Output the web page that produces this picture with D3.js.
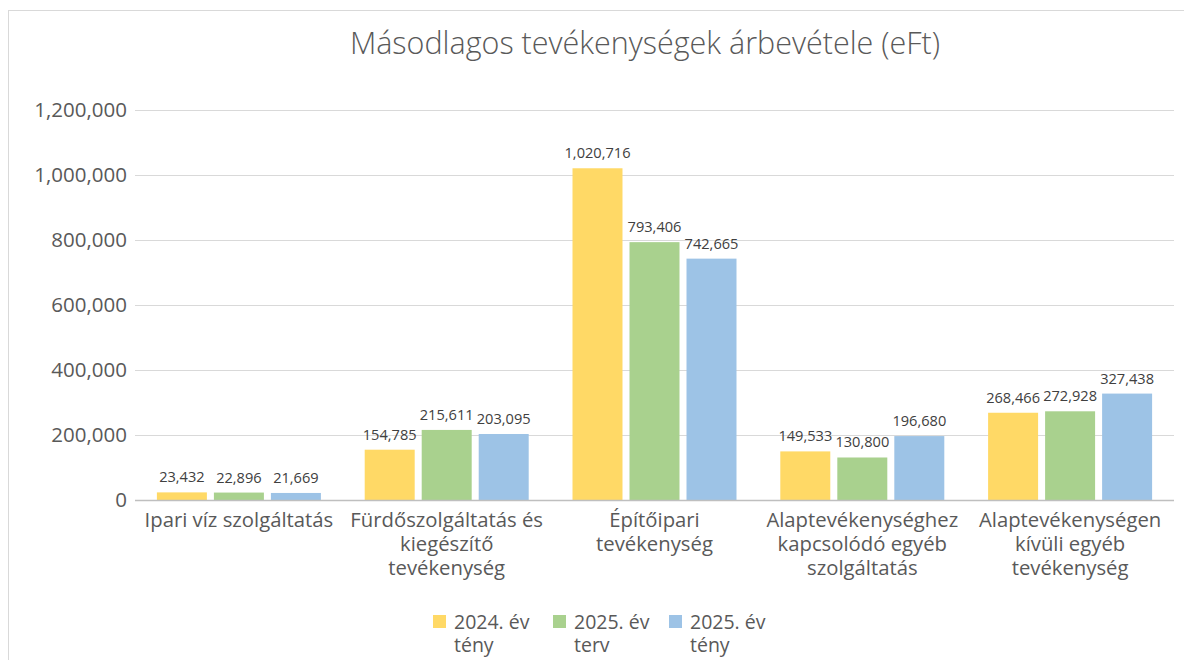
<!DOCTYPE html>
<html>

<head>
    <meta charset="UTF-8">
    <title>Másodlagos tevékenységek árbevétele</title>
    <script src="https://cdn.jsdelivr.net/npm/d3@7"></script>
    <style>
        body { margin: 0; background: #fff; }
        text { font-family: "Open Sans", sans-serif; fill: #595959; }
    </style>
</head>

<body>
    <script>
        const categories = [
            "Ipari víz szolgáltatás",
            "Fürdőszolgáltatás és\nkiegészítő\ntevékenység",
            "Építőipari\ntevékenység",
            "Alaptevékenységhez\nkapcsolódó egyéb\nszolgáltatás",
            "Alaptevékenységen\nkívüli egyéb\ntevékenység"
        ];
        const seriesNames = ["2024. év\ntény", "2025. év\nterv", "2025. év\ntény"];
        const seriesColors = ["#FFD966", "#A9D18E", "#9DC3E6"];
        const v2024teny = [23432, 154785, 1020716, 149533, 268466];
        const v2025terv = [22896, 215611, 793406, 130800, 272928];
        const v2025teny = [21669, 203095, 742665, 196680, 327438];
        const yTicks = [0, 200000, 400000, 600000, 800000, 1000000, 1200000];

        const series = [v2024teny, v2025terv, v2025teny];

        const width = 1184;
        const height = 660;
        const margin = { top: 110, right: 10, bottom: 160, left: 135 };

        const svg = d3.select('body')
            .append('svg')
            .attr('width', width)
            .attr('height', height);

        // chart frame
        svg.append('rect')
            .attr('x', 8.5).attr('y', 10.5)
            .attr('width', width + 20).attr('height', height + 20)
            .attr('fill', 'none')
            .attr('stroke', '#d9d9d9');

        const x0 = d3.scaleBand()
            .domain(d3.range(categories.length))
            .range([margin.left, width - margin.right]);

        const x1 = d3.scaleBand()
            .domain(d3.range(series.length))
            .range([0, 164])
            .paddingInner(0.123);

        const y = d3.scaleLinear()
            .domain([0, 1200000])
            .range([height - margin.bottom, margin.top]);

        const fmt = d3.format(',');

        // gridlines
        svg.append('g')
            .selectAll('line')
            .data(yTicks.slice(1))
            .join('line')
            .attr('x1', margin.left).attr('x2', width - margin.right)
            .attr('y1', d => y(d) + 0.5).attr('y2', d => y(d) + 0.5)
            .attr('stroke', '#d9d9d9')
            .attr('stroke-width', 1.2);

        // y tick labels
        svg.append('g')
            .selectAll('text')
            .data(yTicks)
            .join('text')
            .attr('x', 127)
            .attr('y', d => y(d))
            .attr('dy', '0.35em')
            .attr('text-anchor', 'end')
            .attr('font-size', 20.5)
            .text(d => fmt(d));

        // bars
        const groups = svg.append('g')
            .selectAll('g')
            .data(categories)
            .join('g')
            .attr('transform', (d, i) => `translate(${x0(i) + (x0.bandwidth() - 164) / 2},0)`);

        groups.selectAll('rect')
            .data((d, i) => series.map((s, k) => ({ k, v: s[i] })))
            .join('rect')
            .attr('x', d => x1(d.k))
            .attr('y', d => y(d.v))
            .attr('width', x1.bandwidth())
            .attr('height', d => y(0) - y(d.v))
            .attr('fill', d => seriesColors[d.k]);

        groups.selectAll('text.lbl')
            .data((d, i) => series.map((s, k) => ({ k, v: s[i] })))
            .join('text')
            .attr('class', 'lbl')
            .attr('x', d => x1(d.k) + x1.bandwidth() / 2)
            .attr('y', d => y(d.v) - 10)
            .attr('text-anchor', 'middle')
            .attr('font-size', 14.6)
            .style('fill', '#404040')
            .text(d => fmt(d.v));

        // x axis line
        svg.append('line')
            .attr('x1', margin.left).attr('x2', width - margin.right)
            .attr('y1', y(0) + 0.5).attr('y2', y(0) + 0.5)
            .attr('stroke', '#bfbfbf')
            .attr('stroke-width', 1.5);

        // category labels
        svg.append('g')
            .selectAll('text')
            .data(categories)
            .join('text')
            .attr('x', (d, i) => x0(i) + x0.bandwidth() / 2)
            .attr('y', y(0) + 27)
            .attr('text-anchor', 'middle')
            .attr('font-size', 20.3)
            .each(function (d) {
                d3.select(this).selectAll('tspan')
                    .data(d.split('\n'))
                    .join('tspan')
                    .attr('x', d3.select(this).attr('x'))
                    .attr('dy', (l, j) => j ? 24 : 0)
                    .text(l => l);
            });

        // title
        svg.append('text')
            .attr('x', 645)
            .attr('y', 54)
            .attr('text-anchor', 'middle')
            .attr('font-size', 30.5)
            .attr('font-weight', 300)
            .text('Másodlagos tevékenységek árbevétele (eFt)');

        // legend
        const legendX = [433, 553, 669];
        const legend = svg.append('g')
            .selectAll('g')
            .data(seriesNames)
            .join('g')
            .attr('transform', (d, i) => `translate(${legendX[i]},615)`);

        legend.append('rect')
            .attr('width', 13).attr('height', 13)
            .attr('fill', (d, i) => seriesColors[i]);

        legend.append('text')
            .attr('x', 21)
            .attr('y', 14)
            .attr('font-size', 19.5)
            .each(function (d) {
                d3.select(this).selectAll('tspan')
                    .data(d.split('\n'))
                    .join('tspan')
                    .attr('x', 21)
                    .attr('dy', (l, j) => j ? 23 : 0)
                    .text(l => l);
            });
    </script>
</body>

</html>
